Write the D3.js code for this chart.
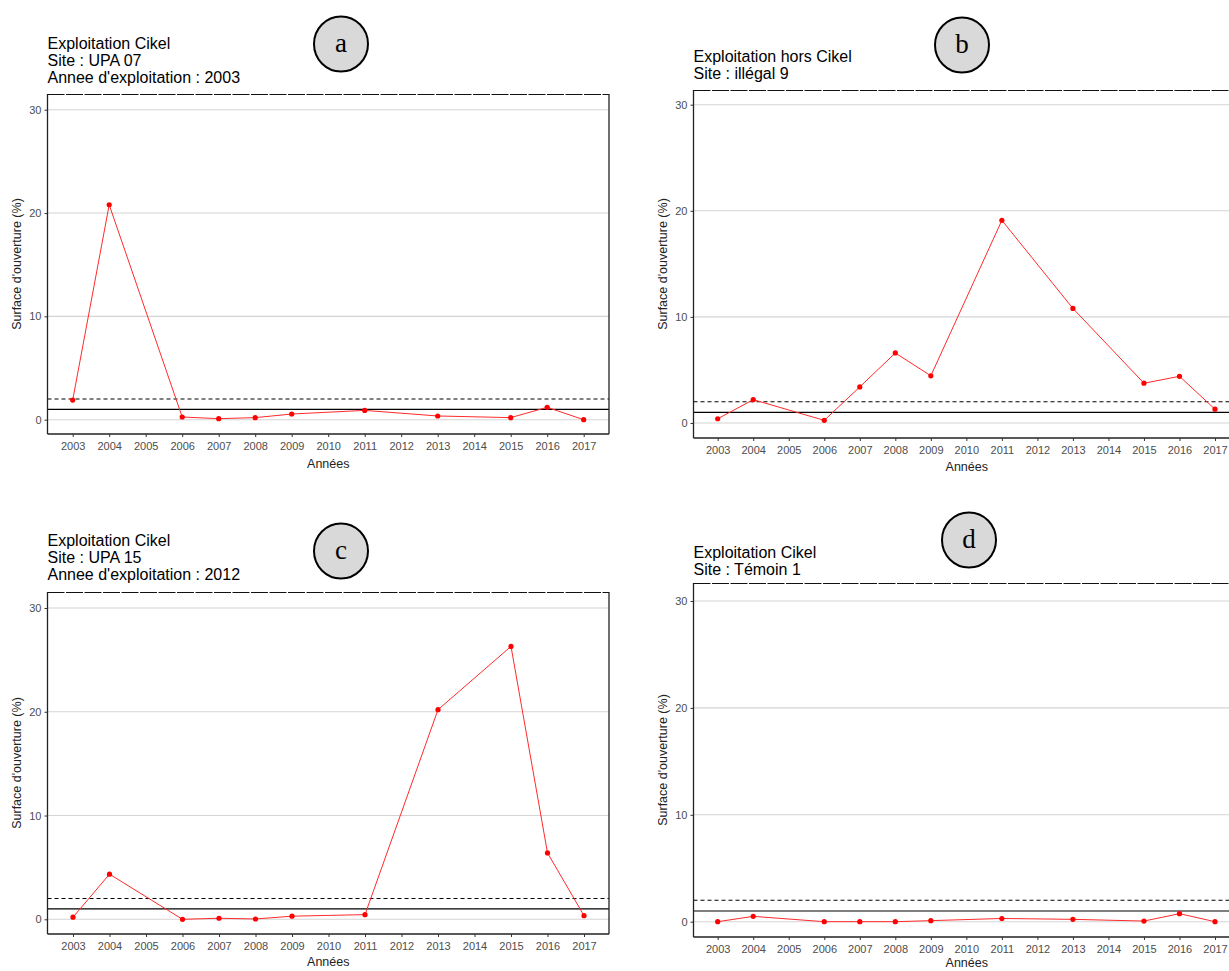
<!DOCTYPE html>
<html><head><meta charset="utf-8">
<script src="https://cdn.jsdelivr.net/npm/d3@7"></script>
<style>
html,body{margin:0;padding:0;background:#fff;overflow:hidden;}
</style></head>
<body>
<svg id="chart" width="1229" height="971" style="font-family:'Liberation Sans',Arial,sans-serif"></svg>
<script>
// ---- data ----
const tickYears = [2003,2004,2005,2006,2007,2008,2009,2010,2011,2012,2013,2014,2015,2016,2017];
const yTicks = [0,10,20,30];
const obsYears = [2003,2004,2006,2007,2008,2009,2011,2013,2015,2016,2017];
const valuesA = [1.9,20.8,0.26,0.1,0.2,0.55,0.9,0.36,0.2,1.2,0.0];
const valuesB = [0.4,2.2,0.25,3.4,6.6,4.45,19.1,10.8,3.75,4.4,1.3];
const valuesC = [0.2,4.35,0.0,0.1,0.03,0.3,0.45,20.2,26.3,6.4,0.35];
const valuesD = [0.0,0.5,0.0,0.0,0.0,0.1,0.3,0.22,0.06,0.75,0.0];
const titlesA = ["Exploitation Cikel","Site : UPA 07","Annee d'exploitation : 2003"];
const titlesB = ["Exploitation hors Cikel","Site : illégal 9"];
const titlesC = ["Exploitation Cikel","Site : UPA 15","Annee d'exploitation : 2012"];
const titlesD = ["Exploitation Cikel","Site : Témoin 1"];
const badges = ["a","b","c","d"];
const thresholdSolid = 1;
const thresholdDashed = 2;
const xTitle = "Années";
const yTitle = "Surface d'ouverture (%)";

// ---- layout ----
const panels = [
  {vals:valuesA, titles:titlesA, badge:badges[0], x0:47.5, x1:609, top:94, bottom:434, y0:419.7, y30:109.7, xa:72.7, xb:583.7, titleY:49, bx:341, by:44, yTitleX:17, xTitleY:468},
  {vals:valuesB, titles:titlesB, badge:badges[1], x0:693.5, x1:1240, top:90, bottom:438, y0:423, y30:104.7, xa:717.7, xb:1215, titleY:62, bx:962, by:45, yTitleX:663, xTitleY:471},
  {vals:valuesC, titles:titlesC, badge:badges[2], x0:47.5, x1:609, top:592, bottom:934, y0:919.3, y30:608, xa:73, xb:584, titleY:546, bx:341, by:551, yTitleX:17, xTitleY:966},
  {vals:valuesD, titles:titlesD, badge:badges[3], x0:693.5, x1:1240, top:583, bottom:937, y0:921.7, y30:601, xa:717.7, xb:1215, titleY:558, bx:969, by:540, yTitleX:663, xTitleY:967}
];

const svg = d3.select("#chart");

panels.forEach(p => {
  const g = svg.append("g");
  const x = d3.scaleLinear().domain([2003,2017]).range([p.xa,p.xb]);
  const y = d3.scaleLinear().domain([0,30]).range([p.y0,p.y30]);

  // gridlines
  g.selectAll(".grid").data(yTicks).enter().append("line")
    .attr("x1",p.x0).attr("x2",p.x1)
    .attr("y1",d=>y(d)).attr("y2",d=>y(d))
    .attr("stroke","#d4d4d4").attr("stroke-width",1.1);

  // thresholds
  g.append("line").attr("x1",p.x0).attr("x2",p.x1)
    .attr("y1",y(thresholdDashed)).attr("y2",y(thresholdDashed))
    .attr("stroke","#000").attr("stroke-width",1.1).attr("stroke-dasharray","4,3");
  g.append("line").attr("x1",p.x0).attr("x2",p.x1)
    .attr("y1",y(thresholdSolid)).attr("y2",y(thresholdSolid))
    .attr("stroke","#000").attr("stroke-width",1.1);

  // series
  const data = obsYears.map((yr,i)=>({yr, v:p.vals[i]}));
  g.append("path").datum(data)
    .attr("d", d3.line().x(d=>x(d.yr)).y(d=>y(d.v)))
    .attr("fill","none").attr("stroke","#ff2a2a").attr("stroke-width",1);
  g.selectAll(".pt").data(data).enter().append("circle")
    .attr("cx",d=>x(d.yr)).attr("cy",d=>y(d.v)).attr("r",2.6)
    .attr("fill","#ff0000");

  // panel border: left, bottom, right solid; top dashed
  g.append("line").attr("x1",p.x0).attr("x2",p.x0).attr("y1",p.top).attr("y2",p.bottom)
    .attr("stroke","#222").attr("stroke-width",1.3);
  g.append("line").attr("x1",p.x0).attr("x2",p.x1).attr("y1",p.bottom).attr("y2",p.bottom)
    .attr("stroke","#222").attr("stroke-width",1.3);
  g.append("line").attr("x1",p.x1).attr("x2",p.x1).attr("y1",p.top).attr("y2",p.bottom)
    .attr("stroke","#222").attr("stroke-width",1.3);
  g.append("line").attr("x1",p.x0).attr("x2",p.x1).attr("y1",p.top+0.5).attr("y2",p.top+0.5)
    .attr("stroke","#111").attr("stroke-width",1).attr("stroke-dasharray","17,1.5");

  // x axis
  const xAxis = d3.axisBottom(x).tickValues(tickYears).tickFormat(d3.format("d")).tickSize(3).tickSizeOuter(0);
  const xa = g.append("g").attr("transform",`translate(0,${p.bottom})`).call(xAxis);
  xa.select(".domain").remove();
  xa.selectAll(".tick line").attr("stroke","#333");
  xa.selectAll(".tick text").attr("fill","#4d4d4d")
    .style("font-size","11px").style("font-family","'Liberation Sans',Arial,sans-serif").attr("dy","0.95em");

  // y axis
  const yAxis = d3.axisLeft(y).tickValues(yTicks).tickSize(3).tickSizeOuter(0);
  const ya = g.append("g").attr("transform",`translate(${p.x0},0)`).call(yAxis);
  ya.select(".domain").remove();
  ya.selectAll(".tick line").attr("stroke","#333");
  ya.selectAll(".tick text").attr("fill","#4d4d4d")
    .style("font-size","11px").style("font-family","'Liberation Sans',Arial,sans-serif");

  // axis titles
  g.append("text").attr("x",(p.x0+p.x1)/2).attr("y",p.xTitleY)
    .attr("text-anchor","middle").style("font-size","12.5px").attr("fill","#222")
    .text(xTitle);
  g.append("text").attr("transform",`translate(${p.yTitleX},${(p.top+p.bottom)/2}) rotate(-90)`)
    .attr("dy","0.35em").attr("text-anchor","middle").style("font-size","12.5px").attr("fill","#222")
    .text(yTitle);

  // titles
  g.selectAll(".ttl").data(p.titles).enter().append("text")
    .attr("x",p.x0).attr("y",(d,i)=>p.titleY+i*17)
    .style("font-size","16px").attr("fill","#000").text(d=>d);

  // badge
  g.append("ellipse").attr("cx",p.bx).attr("cy",p.by).attr("rx",27).attr("ry",27.5)
    .attr("fill","#d9d9d9").attr("stroke","#000").attr("stroke-width",2);
  g.append("text").attr("x",p.bx).attr("y",p.by).attr("dy","0.3em")
    .attr("text-anchor","middle").style("font-size","27px")
    .style("font-family","'Liberation Serif','Times New Roman',serif").attr("fill","#000")
    .text(p.badge);
});
</script>
</body></html>
